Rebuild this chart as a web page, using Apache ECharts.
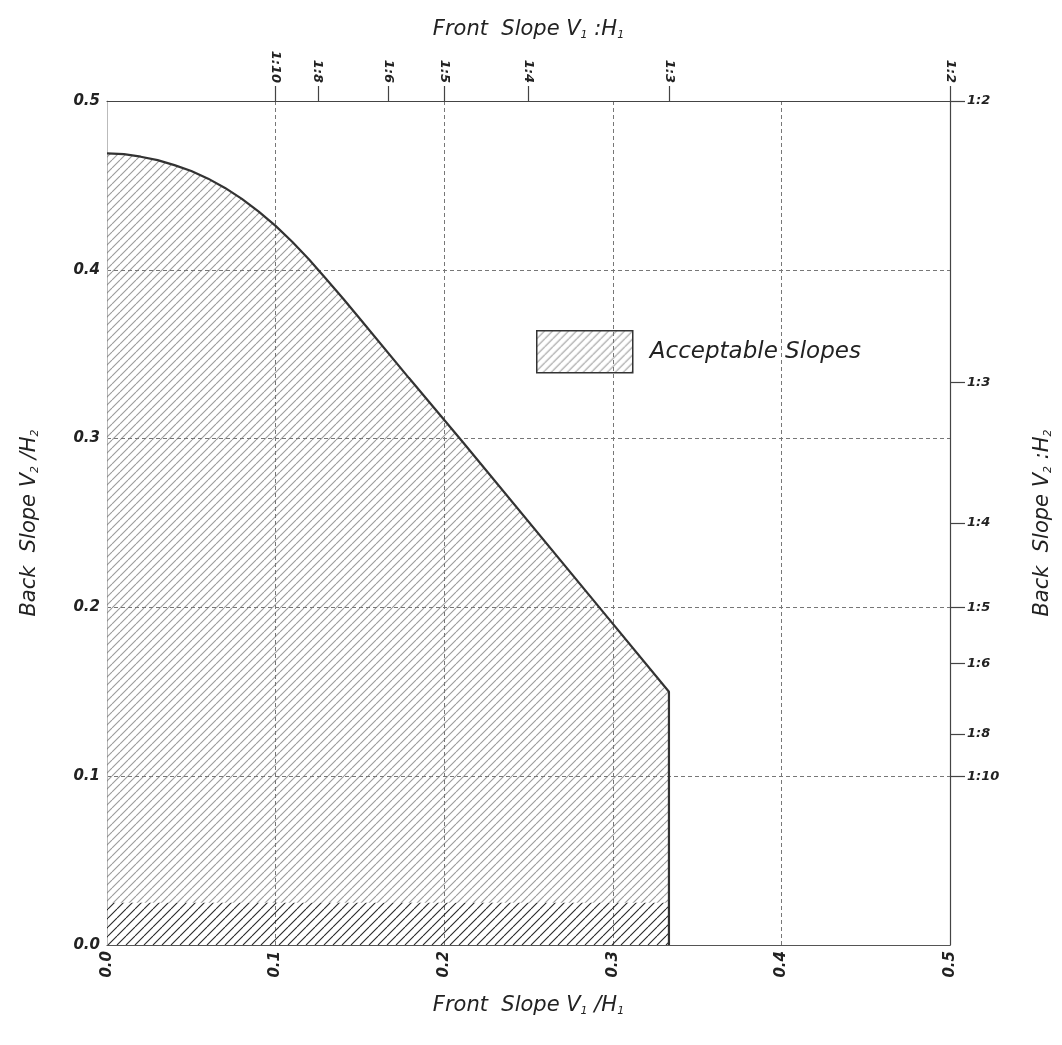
<!DOCTYPE html>
<html>
<head>
<meta charset="utf-8">
<script src="https://cdn.jsdelivr.net/npm/echarts@6/dist/echarts.min.js"></script>
<style>html,body{margin:0;padding:0;background:#fff;}#c{width:1062px;height:1045px;}</style>
</head>
<body>
<div id="c"></div>
<script>
// ---- data ----
var boundaryX = [0, 0.01, 0.02, 0.03, 0.04, 0.05, 0.06, 0.07, 0.08, 0.09, 0.1, 0.11, 0.12, 0.13, 0.14, 0.15, 0.179, 0.211, 0.292, 0.3333, 0.3333];
var boundaryY = [0.469, 0.4685, 0.467, 0.465, 0.462, 0.4585, 0.454, 0.4485, 0.442, 0.4345, 0.426, 0.4165, 0.406, 0.3945, 0.383, 0.371, 0.336, 0.298, 0.200, 0.150, 0];
var stripX = [0, 0.3333];
var stripY = [0.025, 0.025];
var topTickValues = [0.1, 0.125, 1/6, 0.2, 0.25, 1/3, 0.5];
var topTickLabels = ['1:10', '1:8', '1:6', '1:5', '1:4', '1:3', '1:2'];
var rightTickValues = [0.1, 0.125, 1/6, 0.2, 0.25, 1/3, 0.5];
var rightTickLabels = ['1:10', '1:8', '1:6', '1:5', '1:4', '1:3', '1:2'];
var seriesName = 'Acceptable Slopes';

function zip(xs, ys){ return xs.map(function(x,i){ return [x, ys[i]]; }); }
function hatch(size, color, width){
  var c = document.createElement('canvas');
  c.width = size; c.height = size;
  var g = c.getContext('2d');
  g.strokeStyle = color; g.lineWidth = width;
  for (var o = -size; o <= size; o += size){
    g.beginPath(); g.moveTo(o, size); g.lineTo(o + size, 0); g.stroke();
  }
  return {image: c, repeat: 'repeat'};
}
function lookup(vals, labels){
  return function(v){
    for (var i = 0; i < vals.length; i++) if (Math.abs(vals[i] - v) < 1e-6) return labels[i];
    return '';
  };
}
var lightHatch = hatch(8, 'rgba(120,120,120,0.75)', 1.1);
var darkHatch = hatch(9, 'rgba(25,25,25,0.95)', 1.1);
var FONT = 'DejaVu Sans';
var subRich = {sub: {fontSize: 11, fontStyle: 'italic', fontFamily: FONT, color: '#222', padding: [11, 0, 0, 0]}};
var nameStyle = {fontSize: 21, fontStyle: 'italic', fontFamily: FONT, color: '#222', rich: subRich};
var tickStyle = {fontSize: 15, fontStyle: 'italic', fontWeight: 'bold', fontFamily: FONT, color: '#222'};
var ratioStyle = {fontSize: 13, fontStyle: 'italic', fontWeight: 'bold', fontFamily: FONT, color: '#222'};
var gridLine = {show: true, lineStyle: {color: '#777', type: [4, 3], width: 1}};

var chart = echarts.init(document.getElementById('c'), null, {renderer: 'canvas'});
chart.setOption({
  backgroundColor: '#fff',
  animation: false,
  grid: {left: 107, right: 110, top: 101, bottom: 100, containLabel: false},
  legend: {
    left: 536, top: 330, padding: 0,
    itemWidth: 96, itemHeight: 42,
    data: [{name: seriesName, icon: 'rect', itemStyle: {color: lightHatch, borderColor: '#333', borderWidth: 1.5}}],
    textStyle: {fontSize: 23, fontStyle: 'italic', fontFamily: FONT, color: '#222', padding: [0, 0, 0, 12]}
  },
  xAxis: [{
    type: 'value', position: 'bottom', min: 0, max: 0.5, interval: 0.1,
    name: 'Front  Slope V{sub|1} /H{sub|1}', nameLocation: 'middle', nameGap: 50, nameTextStyle: nameStyle,
    axisLine: {show: true, onZero: false, lineStyle: {color: '#555', width: 1.2}},
    axisTick: {show: false},
    axisLabel: {rotate: 90, margin: 6, formatter: function(v){ return v.toFixed(1); }, ...tickStyle},
    splitLine: gridLine
  }, {
    type: 'value', position: 'top', min: 0, max: 0.5,
    name: 'Front  Slope V{sub|1} :H{sub|1}', nameLocation: 'middle', nameGap: 60, nameTextStyle: nameStyle,
    axisLine: {show: true, onZero: false, lineStyle: {color: '#444', width: 1.2}},
    axisTick: {show: true, length: 15, customValues: topTickValues, lineStyle: {color: '#444', width: 1.2}},
    axisLabel: {rotate: 90, margin: 18, customValues: topTickValues, formatter: lookup(topTickValues, topTickLabels), ...ratioStyle},
    splitLine: {show: false}
  }],
  yAxis: [{
    type: 'value', position: 'left', min: 0, max: 0.5, interval: 0.1,
    name: 'Back  Slope V{sub|2} /H{sub|2}', nameLocation: 'middle', nameGap: 66, nameRotate: 90, nameTextStyle: nameStyle,
    axisLine: {show: true, onZero: false, lineStyle: {color: '#bbb', width: 1}},
    axisTick: {show: false},
    axisLabel: {margin: 7, formatter: function(v){ return v.toFixed(1); }, ...tickStyle},
    splitLine: gridLine
  }, {
    type: 'value', position: 'right', min: 0, max: 0.5,
    name: 'Back  Slope V{sub|2} :H{sub|2}', nameLocation: 'middle', nameGap: 82, nameRotate: 90, nameTextStyle: nameStyle,
    axisLine: {show: true, onZero: false, lineStyle: {color: '#444', width: 1.2}},
    axisTick: {show: true, length: 15, customValues: rightTickValues, lineStyle: {color: '#444', width: 1.2}},
    axisLabel: {margin: 17, customValues: rightTickValues, formatter: lookup(rightTickValues, rightTickLabels), ...ratioStyle},
    splitLine: {show: false}
  }],
  series: [{
    type: 'line', name: 'strip', xAxisIndex: 0, yAxisIndex: 0,
    data: zip(stripX, stripY), symbol: 'none', silent: true, z: 2,
    lineStyle: {width: 0, opacity: 0},
    areaStyle: {color: darkHatch, opacity: 1, origin: 'start'}
  }, {
    type: 'line', name: seriesName, xAxisIndex: 0, yAxisIndex: 0,
    data: zip(boundaryX, boundaryY), symbol: 'none', z: 3,
    lineStyle: {color: '#333', width: 2.2},
    areaStyle: {color: lightHatch, opacity: 1, origin: stripY[0]}
  }]
});
</script>
</body>
</html>
